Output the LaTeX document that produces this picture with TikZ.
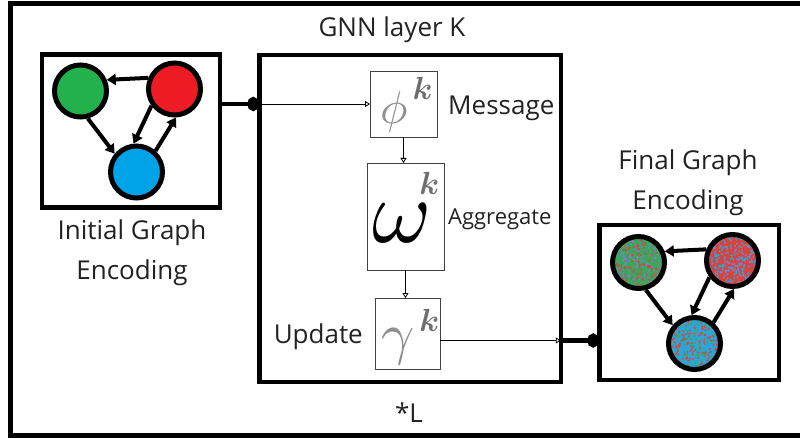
\documentclass[tikz,border=0pt]{standalone}
\usepackage{amsmath}
\usepackage{graphicx}
\usepackage{fontspec}
\setsansfont{Open Sans}
\usetikzlibrary{arrows.meta,calc}
\definecolor{nodegreen}{HTML}{22B14C}
\definecolor{nodered}{HTML}{ED1C24}
\definecolor{nodeblue}{HTML}{00A2E8}
\definecolor{mixgreen}{HTML}{3DA55C}
\definecolor{mixred}{HTML}{D7433E}
\definecolor{mixblue}{HTML}{2EA5D6}
\definecolor{mixviolet}{HTML}{7388C8}
\definecolor{symgrey}{HTML}{8E8E8E}
\definecolor{kgrey}{HTML}{6E6E6E}
\definecolor{labelink}{HTML}{222222}
% operator symbol with a bold k set on its own
\newcommand{\opsym}[5]{\scalebox{#1}{$#2$}\kern#3pt\raisebox{#4pt}{\scalebox{3.2}{\color{#5}$\boldsymbol{k}$}}}

\begin{document}
\begin{tikzpicture}[x=1pt,y=-1pt,
  font=\sffamily,
  encbox/.style={draw,line width=4.5pt,outer sep=0pt,minimum width=178pt,minimum height=153pt},
  gnnbox/.style={draw,line width=4.5pt,outer sep=0pt,minimum width=301.5pt,minimum height=327pt},
  opbox/.style={draw=black!75,line width=0.8pt,outer sep=0pt,inner sep=0pt},
  sym/.style={inner sep=0pt},
  gnode/.style={circle,draw,line width=5pt,minimum size=52pt,inner sep=0pt},
  dots/.style 2 args={path picture={
    \foreach \c in {#1,#2}
      \foreach \i in {1,...,170}
        \fill[\c] ($(path picture bounding box.center)+(27*rand,27*rand)$) circle (1.1);}},
  gedge/.style={-{Triangle[length=9pt,width=11pt]},line width=4pt},
  link/.style={-{Circle[length=12pt,width=14pt]},line width=4.5pt},
  flow/.style={-{Triangle[open,length=5pt,width=6pt]},line width=0.8pt},
  lbl/.style={text=labelink,font=\sffamily\fontsize{26}{40}\selectfont,align=center,inner sep=0pt}]
\useasboundingbox (0,0) rectangle (800,438);
\draw[line width=4.5pt] (10.5,3.5) rectangle (803,435.5);

% boxes
\node[encbox] (ienc) at (131,131) {};
\node[encbox,minimum width=179.5pt,minimum height=155pt] (fenc) at (689,302.5) {};
\node[gnnbox] (gnn) at (410,218.5) {};
\node[opbox,minimum width=67pt,minimum height=66pt] (msg) at (403.5,104) {};
\node[opbox,minimum width=77pt,minimum height=107pt] (agg) at (405.5,216.5) {};
\node[opbox,minimum width=65pt,minimum height=71pt] (upd) at (407.5,333.5) {};

% symbols
\node[sym,anchor=base west] (phik) at (380,124) {\opsym{4.6}{\color{symgrey}\phi}{5}{24}{kgrey}};
\node[sym,anchor=base west] (omegak) at (372,243) {\opsym{9}{\omega}{-12}{48}{kgrey}};
\node[sym,anchor=base west] (gammak) at (381,353.5) {\opsym{5.8}{\color{symgrey}\gamma}{5}{22.5}{kgrey}};

% labels
\node[lbl,anchor=base] (title) at (392,37) {GNN layer K};
\node[lbl,anchor=base west] (msgl) at (448,115) {Message};
\node[lbl,anchor=base west,font=\sffamily\fontsize{22}{24}\selectfont] (aggl) at (448,225) {Aggregate};
\node[lbl,anchor=base east] (updl) at (363,343) {Update};
\node[lbl,anchor=base] (reps) at (409,422) {*L};
\node[lbl] (ilbl) at (132,252.5) {Initial Graph\\Encoding};
\node[lbl] (flbl) at (688,182.5) {Final Graph\\Encoding};

% initial graph
\node[gnode,fill=nodegreen] (ig) at (80.5,91) {};
\node[gnode,fill=nodered] (ir) at (174.5,89) {};
\node[gnode,fill=nodeblue] (ib) at (136.5,172) {};
\draw[gedge] (ir.157) -- (ig.23);
\draw[gedge] (ig.-75) -- (ib.140);
\draw[gedge] (ir.216) -- (ib.96);
\draw[gedge] (ib.48) -- (ir.-87);

% final graph
\begin{scope}[shift={(558,171.5)}]
\pgfmathsetseed{7}
\node[gnode,fill=mixgreen,dots={mixred}{mixviolet}] (fg) at (80.5,91) {};
\node[gnode,fill=mixred,dots={mixviolet}{mixblue}] (fr) at (174.5,89) {};
\node[gnode,fill=mixblue,dots={mixgreen}{mixred}] (fb) at (136.5,172) {};
\draw[gedge] (fr.157) -- (fg.23);
\draw[gedge] (fg.-75) -- (fb.140);
\draw[gedge] (fr.216) -- (fb.96);
\draw[gedge] (fb.48) -- (fr.-87);
\end{scope}

% connectors
\coordinate (out) at ($(upd.east)+(0,7)$);
\draw[link] (msg.west -| ienc.east) -- (msg.west -| gnn.west);
\draw[flow] (msg.west -| gnn.west) -- (msg.west);
\draw[flow] (msg.south) -- (msg.south |- agg.north);
\draw[flow] (agg.south) -- (agg.south |- upd.north);
\draw[flow] (out) -- (out -| gnn.east);
\draw[link] (out -| gnn.east) -- (out -| fenc.west);
\end{tikzpicture}
\end{document}
